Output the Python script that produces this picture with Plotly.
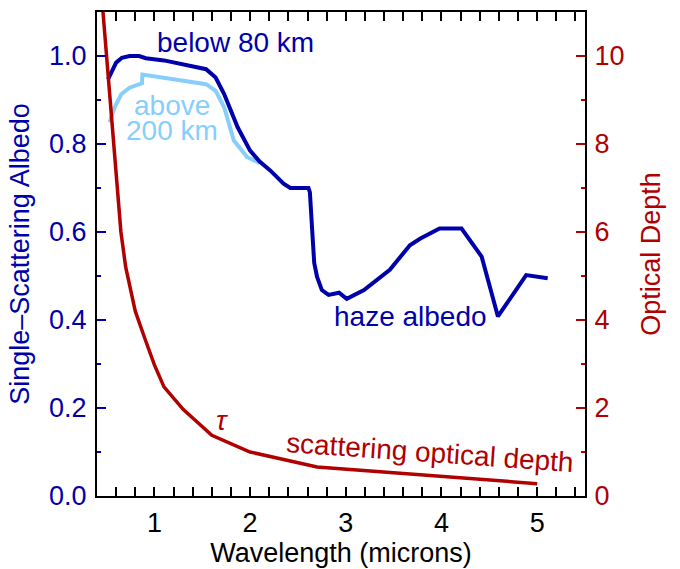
import plotly.graph_objects as go

# ---- data ----
below_x = [0.515, 0.56, 0.60, 0.66, 0.74, 0.84, 0.91, 1.1, 1.30, 1.43, 1.54, 1.64, 1.73, 1.87, 2.0, 2.1,
           2.21, 2.35, 2.42, 2.61, 2.625, 2.65, 2.67, 2.70, 2.75, 2.82, 2.93, 3.01, 3.19, 3.46, 3.67, 3.78,
           3.98, 4.21, 4.42, 4.5, 4.59, 4.885, 5.11]
below_y = [0.947, 0.97, 0.985, 0.996, 1.0, 1.0, 0.995, 0.99, 0.981, 0.977, 0.970, 0.951, 0.913, 0.838, 0.785, 0.76,
           0.74, 0.71, 0.70, 0.70, 0.69, 0.60, 0.53, 0.498, 0.468, 0.457, 0.462, 0.448, 0.468, 0.514, 0.570, 0.585,
           0.608, 0.608, 0.544, 0.48, 0.408, 0.502, 0.495]

above_x = [0.532, 0.584, 0.653, 0.74, 0.844, 0.87, 0.875, 1.087, 1.33, 1.54, 1.64, 1.73, 1.83, 1.97, 2.1]
above_y = [0.849, 0.883, 0.913, 0.928, 0.936, 0.938, 0.958, 0.951, 0.943, 0.936, 0.921, 0.883, 0.808, 0.77, 0.757]

tau_x = [0.44, 0.5, 0.55, 0.6, 0.65, 0.7, 0.8, 0.9, 1.0, 1.1, 1.3, 1.6, 2.0, 2.7, 3.8, 5.0]
tau_y = [11.6, 10.0, 8.55, 7.1, 6.0, 5.2, 4.2, 3.58, 2.98, 2.48, 1.97, 1.38, 1.0, 0.66, 0.48, 0.28]

x_ticks = [1, 2, 3, 4, 5]
alb_ticks = [0.0, 0.2, 0.4, 0.6, 0.8, 1.0]
alb_labels = ["0.0", "0.2", "0.4", "0.6", "0.8", "1.0"]
tau_ticks = [0, 2, 4, 6, 8, 10]

# ---- styles ----
DARK = "#0000AA"
LIGHT = "#87CEFA"
RED = "#B00000"
FONT = "Liberation Sans, Arial, sans-serif"
FS = 27
FA = 28

fig = go.Figure()
fig.add_trace(go.Scatter(x=above_x, y=above_y, mode="lines", line=dict(color=LIGHT, width=4),
                         hoverinfo="skip", showlegend=False))
fig.add_trace(go.Scatter(x=below_x, y=below_y, mode="lines", line=dict(color=DARK, width=4),
                         hoverinfo="skip", showlegend=False))
fig.add_trace(go.Scatter(x=tau_x, y=tau_y, mode="lines", line=dict(color=RED, width=3.5),
                         yaxis="y2", hoverinfo="skip", showlegend=False))

fig.update_layout(
    width=680, height=569,
    margin=dict(l=97, r=95, t=10, b=72),
    paper_bgcolor="white", plot_bgcolor="white",
    font=dict(family=FONT, size=FS, color="black"),
    xaxis=dict(range=[0.4, 5.5], tickvals=x_ticks, ticks="inside", ticklen=9, tickwidth=1.5,
               tickcolor="black", showline=True, linecolor="black", linewidth=2, mirror="allticks",
               showgrid=False, zeroline=False,
               minor=dict(dtick=0.2, tick0=0, ticks="inside", ticklen=4, tickcolor="black", tickwidth=1.5,
                          showgrid=False),
               tickfont=dict(size=FS, color="black"), ticklabelstandoff=2,
               title=dict(text="Wavelength (microns)", font=dict(size=FS, color="black"), standoff=2)),
    yaxis=dict(range=[0, 1.1], tickvals=alb_ticks, ticktext=alb_labels, ticks="inside", ticklen=9,
               tickwidth=1.5, tickcolor=DARK, showline=True, linecolor="black", linewidth=2,
               showgrid=False, zeroline=False,
               minor=dict(dtick=0.1, tick0=0, ticks="inside", ticklen=4, tickcolor=DARK, tickwidth=1.5,
                          showgrid=False),
               tickfont=dict(size=FS, color=DARK), ticklabelstandoff=3,
               title=dict(text="Single–Scattering Albedo", font=dict(size=FS, color=DARK), standoff=12)),
    yaxis2=dict(range=[0, 11], overlaying="y", side="right", tickvals=tau_ticks, ticks="inside",
                ticklen=9, tickwidth=1.5, tickcolor=RED, showline=True, linecolor="black", linewidth=2,
                showgrid=False, zeroline=False,
                minor=dict(dtick=1, tick0=0, ticks="inside", ticklen=4, tickcolor=RED, tickwidth=1.5,
                           showgrid=False),
                tickfont=dict(size=FS, color=RED), ticklabelstandoff=2,
                title=dict(text="Optical Depth", font=dict(size=FS, color=RED), standoff=18)),
)

ann = [
    dict(x=1.85, y=1.03, text="below 80 km", color=DARK, angle=0, yref="y"),
    dict(x=1.18, y=0.888, text="above", color=LIGHT, angle=0, yref="y"),
    dict(x=1.18, y=0.83, text="200 km", color=LIGHT, angle=0, yref="y"),
    dict(x=3.68, y=0.407, text="haze albedo", color=DARK, angle=0, yref="y"),
    dict(x=1.71, y=1.72, text="<i>τ</i>", color=RED, angle=0, yref="y2"),
    dict(x=3.88, y=1.0, text="scattering optical depth", color=RED, angle=4, yref="y2"),
]
for a in ann:
    fig.add_annotation(x=a["x"], y=a["y"], xref="x", yref=a["yref"], text=a["text"], showarrow=False,
                       textangle=a["angle"], font=dict(family=FONT, size=FA, color=a["color"]),
                       xanchor="center", yanchor="middle")

fig.write_html("out.html")
